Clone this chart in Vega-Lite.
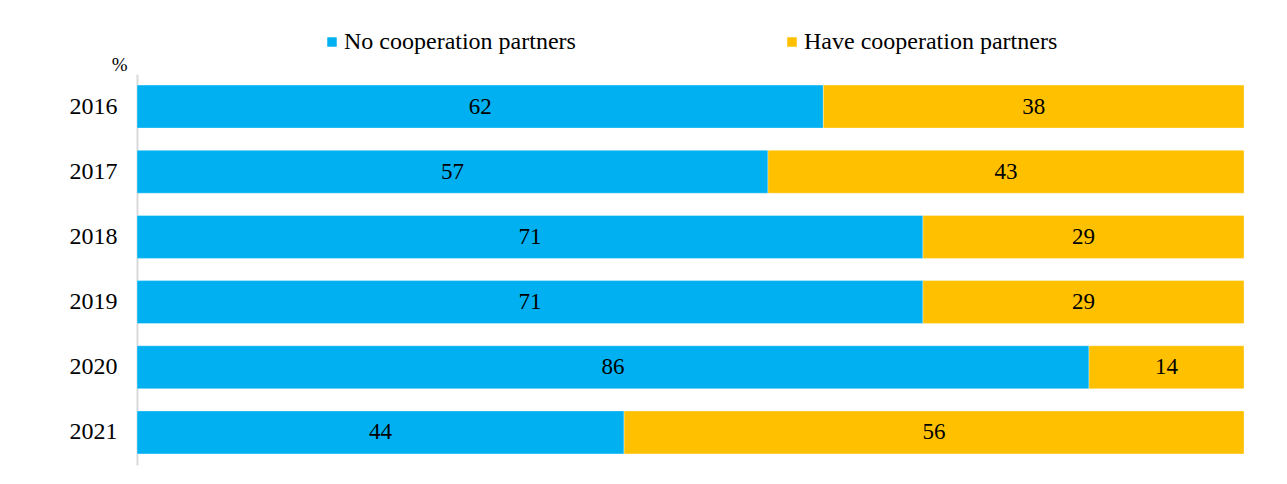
{
  "$schema": "https://vega.github.io/schema/vega-lite/v6.json",
  "autosize": {"type": "none"},
  "width": 1107,
  "height": 391,
  "padding": {"left": 137, "top": 74, "right": 43, "bottom": 19},
  "background": "white",
  "config": {"view": {"stroke": null}, "font": "Liberation Serif"},
  "data": {"values": [
    {"year": "2016", "series": "No cooperation partners", "o": 1, "value": 62},
    {"year": "2016", "series": "Have cooperation partners", "o": 2, "value": 38},
    {"year": "2017", "series": "No cooperation partners", "o": 1, "value": 57},
    {"year": "2017", "series": "Have cooperation partners", "o": 2, "value": 43},
    {"year": "2018", "series": "No cooperation partners", "o": 1, "value": 71},
    {"year": "2018", "series": "Have cooperation partners", "o": 2, "value": 29},
    {"year": "2019", "series": "No cooperation partners", "o": 1, "value": 71},
    {"year": "2019", "series": "Have cooperation partners", "o": 2, "value": 29},
    {"year": "2020", "series": "No cooperation partners", "o": 1, "value": 86},
    {"year": "2020", "series": "Have cooperation partners", "o": 2, "value": 14},
    {"year": "2021", "series": "No cooperation partners", "o": 1, "value": 44},
    {"year": "2021", "series": "Have cooperation partners", "o": 2, "value": 56}
  ]},
  "encoding": {
    "y": {
      "field": "year", "type": "nominal",
      "scale": {"paddingInner": 0.34, "paddingOuter": 0.17},
      "axis": {
        "title": "%", "titleAngle": 0, "titleAlign": "right", "titleBaseline": "bottom",
        "titleX": -10, "titleY": 0, "titleFont": "Liberation Serif", "titleFontSize": 19,
        "titleFontWeight": "normal", "titleColor": "#000",
        "labelFont": "Liberation Serif", "labelFontSize": 24, "labelColor": "#000",
        "labelPadding": 20, "ticks": false, "domainColor": "#d9d9d9", "domainWidth": 2
      }
    },
    "x": {
      "field": "value", "type": "quantitative", "stack": "zero",
      "scale": {"domain": [0, 100]}, "axis": null
    },
    "order": {"field": "o"}
  },
  "layer": [
    {
      "mark": {"type": "bar", "stroke": "#ffffff", "strokeWidth": 0.6, "strokeOpacity": 0.6},
      "encoding": {
        "color": {
          "field": "series", "type": "nominal",
          "scale": {"domain": ["No cooperation partners", "Have cooperation partners"], "range": ["#00B0F0", "#FFC000"]},
          "legend": {
            "title": null, "orient": "none", "direction": "horizontal",
            "legendX": 183, "legendY": -44, "columnPadding": 204,
            "symbolType": "square", "symbolSize": 90, "symbolStrokeWidth": 0,
            "labelFont": "Liberation Serif", "labelFontSize": 24, "labelColor": "#000", "labelOffset": 0,
            "labelLimit": 400
          }
        }
      }
    },
    {
      "mark": {"type": "text", "font": "Liberation Serif", "fontSize": 23, "color": "#000"},
      "encoding": {
        "x": {"field": "value", "type": "quantitative", "stack": "zero", "bandPosition": 0.5},
        "text": {"field": "value", "type": "quantitative"}
      }
    }
  ]
}
